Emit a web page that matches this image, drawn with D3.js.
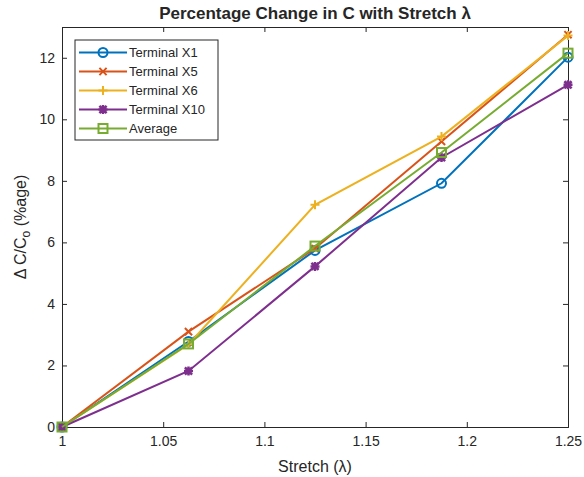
<!DOCTYPE html>
<head>
  <meta charset="utf-8">
  <script src="https://d3js.org/d3.v7.min.js"></script>
  <style>
    body { margin:0; background:#fff; }
    text { font-family: "Liberation Sans", Arial, sans-serif; fill:#262626; }
    .line { fill:none; stroke-width:2px; }
  </style>
</head>
<body>
  <div id="chart"></div>
  <script>
    // values
    var stretch = [1, 1.0625, 1.125, 1.1875, 1.25];
    var seriesNames = ["Terminal X1", "Terminal X5", "Terminal X6", "Terminal X10", "Average"];
    var x1  = [0, 2.78, 5.74, 7.92, 12.02];
    var x5  = [0, 3.1, 5.8, 9.28, 12.75];
    var x6  = [0, 2.68, 7.22, 9.44, 12.72];
    var x10 = [0, 1.82, 5.22, 8.76, 11.12];
    var avg = [0, 2.7, 5.88, 8.92, 12.15];
    var xTicks = [1, 1.05, 1.1, 1.15, 1.2, 1.25];
    var yTicks = [0, 2, 4, 6, 8, 10, 12];

    var colors = ["#0072BD", "#D95319", "#EDB120", "#7E2F8E", "#77AC30"];
    var markers = ["circle", "cross", "plus", "star", "square"];
    var allValues = [x1, x5, x6, x10, avg];

    var W = 584, H = 477;
    var margin = {top: 27, right: 16, bottom: 50, left: 62};

    var svg = d3.select("#chart").append("svg")
      .attr("width", W)
      .attr("height", H);

    var x = d3.scaleLinear().domain([1, 1.25]).range([margin.left, W - margin.right]);
    var y = d3.scaleLinear().domain([0, 13]).range([H - margin.bottom, margin.top]);

    var axisColor = "#262626";

    // axes with inward ticks
    var gx = svg.append("g").attr("transform", "translate(0," + (H - margin.bottom) + ")")
      .call(d3.axisBottom(x).tickValues(xTicks).tickSize(-5).tickPadding(9).tickFormat(d3.format("")));
    var gy = svg.append("g").attr("transform", "translate(" + margin.left + ",0)")
      .call(d3.axisLeft(y).tickValues(yTicks).tickSize(-5).tickPadding(7));
    var gt = svg.append("g").attr("transform", "translate(0," + margin.top + ")")
      .call(d3.axisTop(x).tickValues(xTicks).tickSize(-5).tickFormat(""));
    var gr = svg.append("g").attr("transform", "translate(" + (W - margin.right) + ",0)")
      .call(d3.axisRight(y).tickValues(yTicks).tickSize(-5).tickFormat(""));

    [gx, gy, gt, gr].forEach(function(g) {
      g.select(".domain").attr("stroke", axisColor);
      g.selectAll(".tick line").attr("stroke", axisColor);
      g.selectAll("text").style("font-size", "14px").attr("fill", axisColor);
    });

    // lines
    var line = d3.line()
      .x(function(d, i) { return x(stretch[i]); })
      .y(function(d) { return y(d); });

    function drawMarker(g, type, color, cx, cy) {
      var s = 4.5;
      if (type == "circle") {
        g.append("circle").attr("cx", cx).attr("cy", cy).attr("r", s)
          .attr("fill", "none").attr("stroke", color).attr("stroke-width", 2);
      } else if (type == "square") {
        g.append("rect").attr("x", cx - s).attr("y", cy - s).attr("width", 2 * s).attr("height", 2 * s)
          .attr("fill", "none").attr("stroke", color).attr("stroke-width", 2);
      } else {
        var path = d3.path();
        if (type == "cross" || type == "star") {
          path.moveTo(cx - s * 0.8, cy - s * 0.8); path.lineTo(cx + s * 0.8, cy + s * 0.8);
          path.moveTo(cx - s * 0.8, cy + s * 0.8); path.lineTo(cx + s * 0.8, cy - s * 0.8);
        }
        if (type == "plus" || type == "star") {
          path.moveTo(cx - s, cy); path.lineTo(cx + s, cy);
          path.moveTo(cx, cy - s); path.lineTo(cx, cy + s);
        }
        g.append("path").attr("d", path.toString()).attr("fill", "none")
          .attr("stroke", color).attr("stroke-width", type == "star" ? 2.5 : 2);
      }
    }

    allValues.forEach(function(vals, k) {
      svg.append("path").attr("class", "line")
        .attr("stroke", colors[k])
        .attr("d", line(vals));
      var g = svg.append("g");
      vals.forEach(function(v, i) {
        drawMarker(g, markers[k], colors[k], x(stretch[i]), y(v));
      });
    });

    // title
    svg.append("text")
      .attr("x", (margin.left + W - margin.right) / 2)
      .attr("y", 19)
      .attr("text-anchor", "middle")
      .style("font-size", "17px")
      .style("font-weight", "bold")
      .attr("fill", "#000")
      .text("Percentage Change in C with Stretch \u03bb");

    // x label
    svg.append("text")
      .attr("x", (margin.left + W - margin.right) / 2)
      .attr("y", 472)
      .attr("text-anchor", "middle")
      .style("font-size", "16px")
      .text("Stretch (\u03bb)");

    // y label
    var yl = svg.append("text")
      .attr("transform", "translate(26," + ((margin.top + H - margin.bottom) / 2) + ") rotate(-90)")
      .attr("text-anchor", "middle")
      .style("font-size", "16px");
    yl.append("tspan").text("\u0394 C/C");
    yl.append("tspan").attr("dy", 4).style("font-size", "12px").text("o");
    yl.append("tspan").attr("dy", -4).text(" (%age)");

    // legend
    var lg = svg.append("g").attr("transform", "translate(75,40)");
    lg.append("rect").attr("width", 143).attr("height", 100)
      .attr("fill", "#fff").attr("stroke", axisColor).attr("stroke-width", 1);
    seriesNames.forEach(function(name, k) {
      var ly = 12.5 + k * 19;
      lg.append("line").attr("x1", 4).attr("x2", 52).attr("y1", ly).attr("y2", ly)
        .attr("stroke", colors[k]).attr("stroke-width", 2);
      drawMarker(lg, markers[k], colors[k], 28, ly);
      lg.append("text").attr("x", 54).attr("y", ly + 4.5)
        .style("font-size", "13px").text(name);
    });
  </script>
</body>
